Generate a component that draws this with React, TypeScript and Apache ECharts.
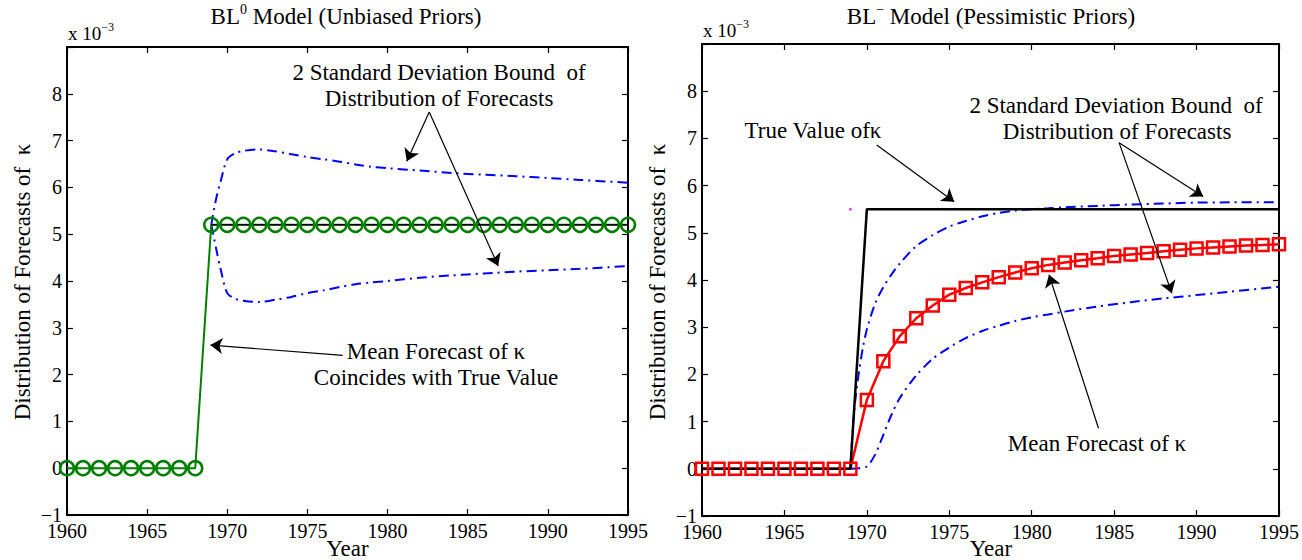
import React, { useEffect, useRef } from 'react';
import * as echarts from 'echarts';

const FONT = 'Liberation Serif';

// x categories (years)
const YEARS = [1960, 1961, 1962, 1963, 1964, 1965, 1966, 1967, 1968, 1969, 1970, 1971, 1972, 1973, 1974, 1975, 1976, 1977, 1978, 1979, 1980, 1981, 1982, 1983, 1984, 1985, 1986, 1987, 1988, 1989, 1990, 1991, 1992, 1993, 1994, 1995];

// Left panel (BL0, unbiased priors), values x 10^-3
const LEFT_MEAN = [0, 0, 0, 0, 0, 0, 0, 0, 0, 5.2, 5.2, 5.2, 5.2, 5.2, 5.2, 5.2, 5.2, 5.2, 5.2, 5.2, 5.2, 5.2, 5.2, 5.2, 5.2, 5.2, 5.2, 5.2, 5.2, 5.2, 5.2, 5.2, 5.2, 5.2, 5.2, 5.2];
const LEFT_TRUE_YEARS = [1969, 1995];
const LEFT_TRUE = [5.2, 5.2];
const LEFT_BOUND_YEARS = [1969, 1969.3, 1969.6, 1970, 1970.5, 1971, 1972, 1973, 1974, 1975, 1976, 1977, 1978, 1979, 1980, 1982, 1984, 1986, 1988, 1990, 1992, 1995];
const LEFT_UPPER = [5.2, 5.75, 6.15, 6.6, 6.73, 6.78, 6.81, 6.77, 6.71, 6.65, 6.6, 6.55, 6.49, 6.44, 6.41, 6.36, 6.31, 6.27, 6.24, 6.2, 6.16, 6.1];
const LEFT_LOWER = [5.2, 4.7, 4.23, 3.74, 3.62, 3.58, 3.55, 3.6, 3.66, 3.74, 3.8, 3.87, 3.93, 3.97, 4.0, 4.07, 4.12, 4.16, 4.2, 4.23, 4.26, 4.32];

// Right panel (BL-, pessimistic priors), values x 10^-3
const RIGHT_MEAN = [0, 0, 0, 0, 0, 0, 0, 0, 0, 0, 1.46, 2.28, 2.81, 3.19, 3.46, 3.69, 3.83, 3.95, 4.06, 4.16, 4.25, 4.32, 4.37, 4.42, 4.46, 4.51, 4.54, 4.57, 4.61, 4.64, 4.67, 4.69, 4.71, 4.73, 4.74, 4.76];
const RIGHT_TRUE_YEARS = [1960, 1969, 1970, 1995];
const RIGHT_TRUE = [0, 0, 5.5, 5.5];
const RIGHT_UPPER_YEARS = [1969, 1969.1, 1969.25, 1969.5, 1969.75, 1970, 1970.5, 1971, 1971.5, 1972, 1973, 1974, 1975, 1976, 1977, 1978, 1979, 1980, 1981, 1982, 1984, 1986, 1988, 1990, 1992, 1995];
const RIGHT_UPPER = [0, 0.6, 1.3, 2.0, 2.55, 2.95, 3.5, 3.85, 4.12, 4.35, 4.72, 4.95, 5.13, 5.25, 5.35, 5.42, 5.47, 5.5, 5.52, 5.54, 5.57, 5.6, 5.62, 5.64, 5.645, 5.65];
const RIGHT_LOWER_YEARS = [1969, 1969.5, 1970, 1970.5, 1971, 1971.5, 1972, 1973, 1974, 1975, 1976, 1977, 1978, 1979, 1980, 1981, 1982, 1984, 1986, 1988, 1990, 1992, 1995];
const RIGHT_LOWER = [0, 0.01, 0.05, 0.3, 0.72, 1.15, 1.5, 1.98, 2.33, 2.57, 2.77, 2.92, 3.03, 3.13, 3.21, 3.27, 3.33, 3.44, 3.53, 3.61, 3.68, 3.75, 3.86];
const RIGHT_DOT = [1969, 5.5];

// Axis ranges / ticks
const X_MIN = 1960;
const X_MAX = 1995;
const X_STEP = 5;
const Y_MIN = -1;
const Y_MAX = 9;
const Y_STEP = 1;

// Annotation arrows in data coordinates: [from, to]
const LEFT_ARROWS = [
  [[1982.6, 7.61], [1981.2, 6.56]],
  [[1982.6, 7.61], [1986.9, 4.32]],
  [[1977.2, 2.41], [1968.95, 2.63]],
];
const RIGHT_ARROWS = [
  [[1970.6, 6.86], [1975.3, 5.66]],
  [[1985.3, 6.91], [1990.4, 5.77]],
  [[1985.3, 6.91], [1988.5, 3.72]],
  [[1984.05, 0.86], [1981.05, 4.11]],
];

const pairs = (xs: number[], ys: number[]) => xs.map((x, i) => [x, ys[i]]);

const xAxisDef = (gridIndex: number, position: string) => ({
  type: 'value',
  gridIndex,
  position,
  min: X_MIN,
  max: X_MAX,
  interval: X_STEP,
  axisLine: { show: true, onZero: false, lineStyle: { color: '#000', width: 2 } },
  axisTick: { show: true, inside: true, length: 6, lineStyle: { color: '#000', width: 1.2 } },
  axisLabel: {
    show: position === 'bottom',
    color: '#000',
    fontFamily: FONT,
    fontSize: 20,
    margin: 6,
    formatter: (v: number) => String(v),
  },
  splitLine: { show: false },
});

const yAxisDef = (gridIndex: number, position: string) => ({
  type: 'value',
  gridIndex,
  position,
  min: Y_MIN,
  max: Y_MAX,
  interval: Y_STEP,
  axisLine: { show: true, onZero: false, lineStyle: { color: '#000', width: 2 } },
  axisTick: { show: true, inside: true, length: 6, lineStyle: { color: '#000', width: 1.2 } },
  axisLabel: {
    show: position === 'left',
    color: '#000',
    fontFamily: FONT,
    fontSize: 20,
    margin: 5,
    formatter: (v: number) => (v >= Y_MAX ? '' : v < 0 ? '\u2212' + Math.abs(v) : String(v)),
  },
  splitLine: { show: false },
});

const arrowMarkLine = (arrows: number[][][]) => ({
  silent: true,
  symbol: ['none', 'arrow'],
  symbolSize: 12,
  label: { show: false },
  lineStyle: { color: '#000', width: 1.2, type: 'solid' },
  emphasis: { disabled: true },
  data: arrows.map((a) => [{ coord: a[0] }, { coord: a[1] }]),
});

const DASHDOT = [10, 5, 2, 5];

const text = (x: number, y: number, t: string, size = 23, extra: any = {}) => ({
  type: 'text',
  x,
  y,
  silent: true,
  style: {
    text: t,
    fill: '#000',
    fontFamily: FONT,
    fontSize: size,
    align: 'center',
    verticalAlign: 'middle',
    ...extra,
  },
});

export default function App() {
  const ref = useRef<HTMLDivElement>(null);

  useEffect(() => {
    if (!ref.current) return;
    const chart = echarts.init(ref.current, undefined, { renderer: 'svg' });
    const supRich = {
      a: { fontFamily: FONT, fontSize: 23, lineHeight: 28, fill: '#000' },
      s: { fontFamily: FONT, fontSize: 14, lineHeight: 14, verticalAlign: 'top', fill: '#000' },
    };
    const expRich = {
      a: { fontFamily: FONT, fontSize: 19, lineHeight: 24, fill: '#000' },
      s: { fontFamily: FONT, fontSize: 12, lineHeight: 12, verticalAlign: 'top', fill: '#000' },
    };
    chart.setOption({
      animation: false,
      backgroundColor: '#fff',
      textStyle: { fontFamily: FONT },
      grid: [
        { left: 67, top: 47, width: 561, height: 468, containLabel: false },
        { left: 702, top: 44, width: 578, height: 472, containLabel: false },
      ],
      xAxis: [xAxisDef(0, 'bottom'), xAxisDef(0, 'top'), xAxisDef(1, 'bottom'), xAxisDef(1, 'top')],
      yAxis: [yAxisDef(0, 'left'), yAxisDef(0, 'right'), yAxisDef(1, 'left'), yAxisDef(1, 'right')],
      series: [
        {
          type: 'line', xAxisIndex: 0, yAxisIndex: 0,
          data: pairs(LEFT_BOUND_YEARS, LEFT_UPPER),
          showSymbol: false, smooth: 0.3,
          lineStyle: { color: '#0000ff', width: 2, type: DASHDOT },
          markLine: arrowMarkLine(LEFT_ARROWS),
        },
        {
          type: 'line', xAxisIndex: 0, yAxisIndex: 0,
          data: pairs(LEFT_BOUND_YEARS, LEFT_LOWER),
          showSymbol: false, smooth: 0.3,
          lineStyle: { color: '#0000ff', width: 2, type: DASHDOT },
        },
        {
          type: 'line', xAxisIndex: 0, yAxisIndex: 0,
          data: pairs(YEARS, LEFT_MEAN),
          symbol: 'circle', symbolSize: 14,
          itemStyle: { color: 'rgba(0,0,0,0)', borderColor: '#008000', borderWidth: 2.5 },
          lineStyle: { color: '#008000', width: 2 },
        },
        {
          type: 'line', xAxisIndex: 0, yAxisIndex: 0,
          data: pairs(LEFT_TRUE_YEARS, LEFT_TRUE),
          showSymbol: false,
          lineStyle: { color: '#000', width: 1.5 },
        },
        {
          type: 'line', xAxisIndex: 2, yAxisIndex: 2,
          data: pairs(RIGHT_UPPER_YEARS, RIGHT_UPPER),
          showSymbol: false, smooth: 0.3,
          lineStyle: { color: '#0000ff', width: 2, type: DASHDOT },
          markLine: arrowMarkLine(RIGHT_ARROWS),
        },
        {
          type: 'line', xAxisIndex: 2, yAxisIndex: 2,
          data: pairs(RIGHT_LOWER_YEARS, RIGHT_LOWER),
          showSymbol: false, smooth: 0.3,
          lineStyle: { color: '#0000ff', width: 2, type: DASHDOT },
        },
        {
          type: 'line', xAxisIndex: 2, yAxisIndex: 2,
          data: pairs(YEARS, RIGHT_MEAN),
          symbol: 'rect', symbolSize: 12,
          itemStyle: { color: 'rgba(0,0,0,0)', borderColor: '#ff0000', borderWidth: 2.5 },
          lineStyle: { color: '#ff0000', width: 2.5 },
        },
        {
          type: 'line', xAxisIndex: 2, yAxisIndex: 2,
          data: pairs(RIGHT_TRUE_YEARS, RIGHT_TRUE),
          showSymbol: false,
          lineStyle: { color: '#000', width: 2.5 },
        },
        {
          type: 'scatter', xAxisIndex: 2, yAxisIndex: 2,
          data: [RIGHT_DOT],
          symbolSize: 3,
          itemStyle: { color: '#ff00ff' },
        },
      ],
      graphic: [
        {
          type: 'text', x: 346, y: 16, silent: true,
          style: { text: '{a|BL}{s|0}{a| Model (Unbiased Priors)}', rich: supRich, align: 'center', verticalAlign: 'middle', fontFamily: FONT, fontSize: 23, fill: '#000' },
        },
        {
          type: 'text', x: 991, y: 16, silent: true,
          style: { text: '{a|BL}{s|\u2212}{a| Model (Pessimistic Priors)}', rich: supRich, align: 'center', verticalAlign: 'middle', fontFamily: FONT, fontSize: 23, fill: '#000' },
        },
        {
          type: 'text', x: 68, y: 33, silent: true,
          style: { text: '{a|x 10}{s|\u22123}', rich: expRich, align: 'left', verticalAlign: 'middle', fontFamily: FONT, fontSize: 19, fill: '#000' },
        },
        {
          type: 'text', x: 703, y: 30, silent: true,
          style: { text: '{a|x 10}{s|\u22123}', rich: expRich, align: 'left', verticalAlign: 'middle', fontFamily: FONT, fontSize: 19, fill: '#000' },
        },
        { ...text(22, 282, 'Distribution of Forecasts of  \u03ba'), rotation: Math.PI / 2 },
        { ...text(657, 282, 'Distribution of Forecasts of  \u03ba'), rotation: Math.PI / 2 },
        text(347.5, 548, 'Year'),
        text(991, 548, 'Year'),
        text(439, 72, '2 Standard Deviation Bound  of'),
        text(439, 98, 'Distribution of Forecasts'),
        text(436, 351, 'Mean Forecast of \u03ba'),
        text(436, 377, 'Coincides with True Value'),
        text(813, 130, 'True Value of\u03ba'),
        text(1116, 105, '2 Standard Deviation Bound  of'),
        text(1117, 131, 'Distribution of Forecasts'),
        text(1097, 443, 'Mean Forecast of \u03ba'),
      ],
    });
    return () => chart.dispose();
  }, []);

  return (
    <div
      ref={ref}
      style={{ position: 'fixed', left: 0, top: 0, width: 1302, height: 560, background: '#fff' }}
    />
  );
}
